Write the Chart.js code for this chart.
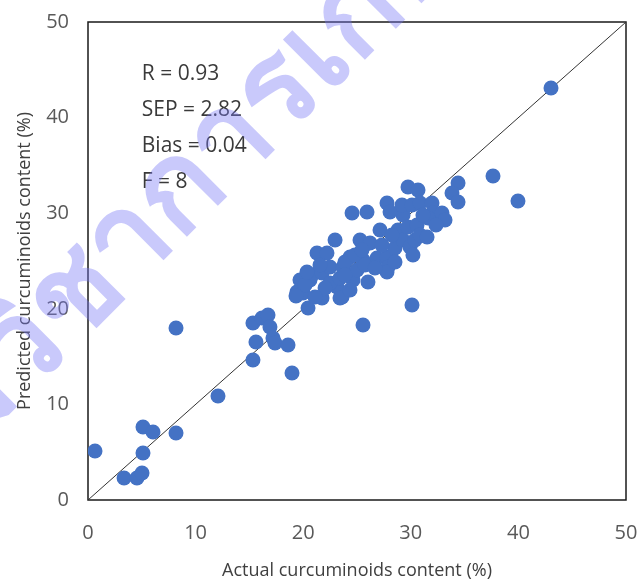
<!DOCTYPE html>
<html>
<head>
<meta charset="utf-8">
<script src="https://cdn.jsdelivr.net/npm/chart.js@4.4.1/dist/chart.umd.min.js"></script>
<style>
  html, body { margin: 0; padding: 0; background: #fff; }
</style>
</head>
<body>
<canvas id="chart" width="642" height="583"></canvas>
<script>
// measured vs predicted curcuminoids (%)
const actual = [
  0.65, 3.35, 4.55, 5.02, 5.11, 5.11, 6.04, 8.18, 8.18, 12.08,
  15.33, 15.61, 15.33, 16.17, 16.73, 16.91, 17.19, 17.38, 18.59, 18.96,
  19.42, 20.45, 19.70, 19.98, 21.75, 23.61, 25.56, 30.11, 20.63, 20.82,
  21.75, 22.49, 23.70, 23.14, 23.42, 24.63, 25.00, 24.35, 25.56, 26.02,
  22.49, 21.28, 22.21, 22.96, 25.28, 24.54, 25.93, 26.21, 26.86, 27.79,
  27.88, 27.79, 27.14, 28.53, 28.81, 29.28, 29.28, 29.74, 29.93, 30.39,
  30.58, 30.86, 31.51, 27.79, 28.07, 29.18, 30.11, 29.74, 30.67, 30.86,
  31.97, 32.06, 32.90, 33.18, 31.60, 34.39, 33.83, 34.39, 37.64, 39.96,
  43.03, 21.56, 23.88, 24.81, 25.74, 26.67, 23.42, 22.03, 21.10, 24.35,
  25.46, 23.88, 28.53, 27.32, 28.25, 30.20, 31.13, 32.34, 20.17, 19.33,
  20.35
];
const predicted = [
  5.13, 2.30, 2.30, 2.82, 4.92, 7.64, 7.11, 7.01, 17.99, 10.88,
  18.51, 16.53, 14.64, 19.04, 19.35, 18.10, 16.95, 16.42, 16.21, 13.28,
  21.76, 20.08, 23.01, 21.65, 21.13, 21.23, 18.31, 20.40, 23.01, 23.54,
  23.74, 24.37, 24.37, 22.28, 21.13, 23.01, 24.06, 25.42, 25.10, 22.80,
  22.70, 25.84, 25.84, 27.20, 27.20, 30.02, 30.13, 26.88, 25.31, 25.42,
  24.37, 23.85, 28.24, 26.36, 28.24, 27.20, 29.81, 28.56, 26.46, 27.20,
  28.77, 27.72, 27.51, 31.07, 30.13, 30.86, 30.86, 32.74, 32.43, 31.07,
  31.07, 30.02, 30.02, 29.29, 29.50, 33.16, 32.11, 31.17, 33.89, 31.28,
  43.10, 24.58, 24.90, 25.63, 24.58, 24.27, 23.22, 22.18, 21.23, 21.97,
  26.15, 23.54, 24.90, 26.67, 27.72, 25.63, 29.81, 28.77, 22.49, 21.34,
  23.85
];
const oneToOne = [0, 50];
const statLines = ['R = 0.93', 'SEP = 2.82', 'Bias = 0.04', 'F = 8'];
const xTitle = 'Actual curcuminoids content (%)';
const yTitle = 'Predicted curcuminoids content (%)';
const watermark = 'กรมวิชาการเกษตร';

const points = actual.map((x, i) => ({ x: x, y: predicted[i] }));
const diag = oneToOne.map(v => ({ x: v, y: v }));

const framePlugin = {
  id: 'frame',
  beforeDatasetsDraw(chart) {
    const { ctx, chartArea: a } = chart;
    ctx.save();
    ctx.strokeStyle = '#1a1a1a';
    ctx.lineWidth = 1.5;
    ctx.strokeRect(a.left, a.top, a.right - a.left, a.bottom - a.top);
    ctx.restore();
  }
};

const statsPlugin = {
  id: 'stats',
  afterDatasetsDraw(chart) {
    const { ctx, scales } = chart;
    ctx.save();
    ctx.font = '21px "Open Sans"';
    ctx.fillStyle = '#3a3a3a';
    ctx.textBaseline = 'middle';
    statLines.forEach((t, i) => {
      ctx.fillText(t, scales.x.getPixelForValue(5), scales.y.getPixelForValue(44.6 - i * 3.77));
    });
    ctx.restore();
  }
};

const watermarkPlugin = {
  id: 'watermark',
  afterDraw(chart) {
    const ctx = chart.ctx;
    ctx.save();
    ctx.translate(194, 180);
    ctx.rotate(-45 * Math.PI / 180);
    ctx.font = 'bold 122px sans-serif';
    ctx.fillStyle = 'rgba(120, 120, 245, 0.4)';
    ctx.textAlign = 'center';
    ctx.textBaseline = 'middle';
    ctx.fillText(watermark, 0, 0);
    ctx.restore();
  }
};

// invisible tick marks push labels away without inflating the layout padding
const hiddenTicks = len => ({
  display: true,
  drawOnChartArea: false,
  drawTicks: true,
  tickLength: len,
  color: 'rgba(0,0,0,0)'
});

new Chart(document.getElementById('chart'), {
  type: 'scatter',
  data: {
    datasets: [
      {
        data: points,
        backgroundColor: '#4472C4',
        borderWidth: 0,
        pointRadius: 7.5,
        pointHoverRadius: 7.5
      },
      {
        type: 'line',
        data: diag,
        borderColor: '#333333',
        borderWidth: 1,
        pointRadius: 0
      }
    ]
  },
  options: {
    responsive: false,
    animation: false,
    devicePixelRatio: 1,
    layout: { padding: { top: 22, right: 16, left: 0, bottom: 0 } },
    plugins: {
      legend: { display: false },
      tooltip: { enabled: false }
    },
    scales: {
      x: {
        type: 'linear',
        min: 0,
        max: 50,
        grid: hiddenTicks(21),
        border: { display: false },
        ticks: { stepSize: 10, color: '#595959', font: { family: 'Open Sans', size: 20 }, padding: 0 },
        title: {
          display: true,
          text: xTitle,
          color: '#404040',
          font: { family: 'Open Sans', size: 18 },
          padding: { top: 0, bottom: 1 }
        },
        afterFit: s => { s.height = 83; }
      },
      y: {
        type: 'linear',
        min: 0,
        max: 50,
        grid: hiddenTicks(19),
        border: { display: false },
        ticks: { stepSize: 10, color: '#595959', font: { family: 'Open Sans', size: 20 }, padding: 0 },
        title: {
          display: true,
          text: yTitle,
          color: '#404040',
          font: { family: 'Open Sans', size: 18 },
          padding: { top: 14, bottom: 0 }
        },
        afterFit: s => { s.width = 88; }
      }
    }
  },
  plugins: [framePlugin, statsPlugin, watermarkPlugin]
});
</script>
</body>
</html>
